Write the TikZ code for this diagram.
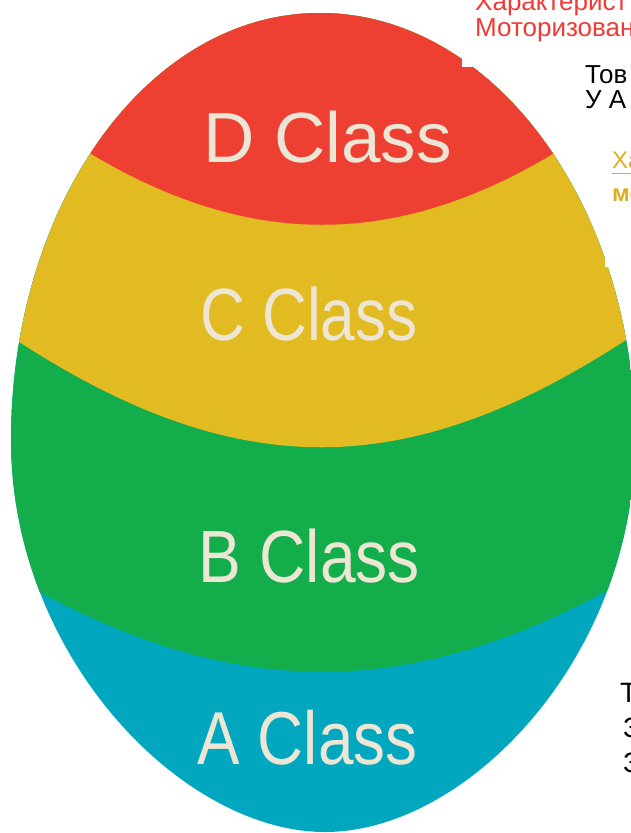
\documentclass[tikz,border=0pt]{standalone}
\usepackage{fontspec}
\setmainfont{Liberation Sans}
\definecolor{dred}{HTML}{EE3F33}
\definecolor{cyellow}{HTML}{E2BA22}
\definecolor{bgreen}{HTML}{13AD4B}
\definecolor{ateal}{HTML}{00A7BF}
\definecolor{cream}{HTML}{EEE6D4}
\definecolor{linkred}{HTML}{EF3B36}
\definecolor{linkgold}{HTML}{DDAE22}

\begin{document}
\begin{tikzpicture}[x=1pt, y=-1pt,
  every node/.style={inner sep=0pt, anchor=base},
  cls/.style={text=cream, font=\fontsize{74}{74}\selectfont},
  sidetext/.style={anchor=base west, font=\fontsize{25}{25}\selectfont}]
\useasboundingbox (0,0) rectangle (631,833);

\begin{scope}
\clip (320,13) .. controls (493,13) and (635,205) .. (635,440)
  .. controls (635,656) and (468,832) .. (325,832)
  .. controls (182,832) and (11,656) .. (11,440)
  .. controls (11,205) and (147,13) .. (320,13) -- cycle;
\fill[ateal] (-10,-10) rectangle (650,850);
\fill[bgreen] (-10,-10) -- (-10,590) -- (36,590) .. controls (236,699) and (408,699) .. (608,590) -- (650,590) -- (650,-10) -- cycle;
\fill[cyellow] (-10,-10) -- (-10,340) -- (16,340) .. controls (236,483) and (406,483) .. (626,340) -- (650,340) -- (650,-10) -- cycle;
\fill[dred] (-10,-10) -- (-10,152) -- (88,152) .. controls (248,249) and (396,249) .. (556,152) -- (650,152) -- (650,-10) -- cycle;
\end{scope}

\fill[white] (462,-5) rectangle (640,67);
\fill[white] (605,230) rectangle (640,267);

\node[cls, font=\fontsize{71}{71}\selectfont] (dcls) at (327.5,162) {D Class};
\node[cls, xscale=0.84] (ccls) at (309,340) {C Class};
\node[cls, xscale=0.867] (bcls) at (309.5,582) {B Class};
\node[cls, xscale=0.85, font=\fontsize{75}{75}\selectfont] (acls) at (307.5,764) {A Class};

\node[sidetext, text=linkred, font=\fontsize{26}{26}\selectfont] (charact) at (475,10) {Характерист};
\node[sidetext, text=linkred, font=\fontsize{26}{26}\selectfont] (motor) at (475,36) {Моторизован};

\node[sidetext, font=\fontsize{26}{26}\selectfont] (tov) at (585,83) {Тов};
\node[sidetext, font=\fontsize{26}{26}\selectfont] (ua) at (585,108) {У А};

\node[sidetext, text=linkgold, font=\fontsize{24}{24}\selectfont] (kha) at (612,168) {Ха};
\draw[linkgold, line width=1pt] ([yshift=-5pt]kha.base west) -- ([yshift=-5pt]kha.base east);
\node[sidetext, text=linkgold, font=\bfseries\fontsize{24}{24}\selectfont] (mo) at (612,201) {мо};

\node[sidetext, font=\fontsize{28}{28}\selectfont] (t1) at (620,702) {Т};
\node[sidetext, font=\fontsize{28}{28}\selectfont] (z1) at (623,737) {З};
\node[sidetext, font=\fontsize{28}{28}\selectfont] (z2) at (623,772) {З};

\end{tikzpicture}
\end{document}
